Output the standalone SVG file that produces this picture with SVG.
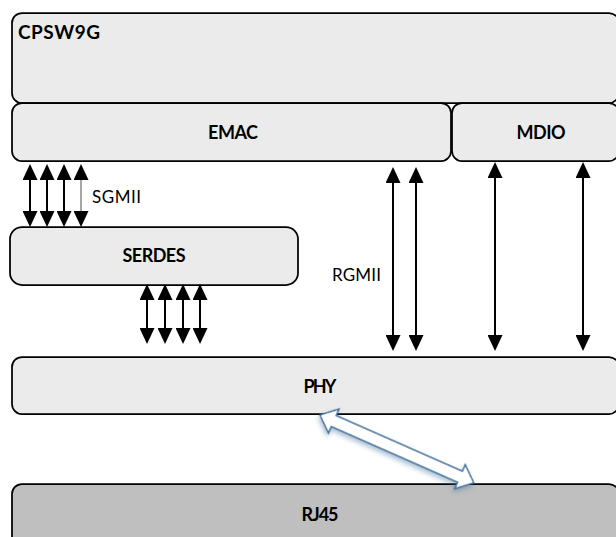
<svg xmlns="http://www.w3.org/2000/svg" width="616" height="537" viewBox="0 0 616 537">
<style>
.box{fill:#EBEBEB;stroke:#000;stroke-width:1.75}
.dark{fill:#BFBFBF}
.lbl{font-family:Lato,"Open Sans",sans-serif;font-weight:bold;font-size:18px;fill:#000;text-anchor:middle}
.sig{font-family:Lato,"Open Sans",sans-serif;font-size:17px;fill:#000}
.ar{stroke:#000;stroke-width:2;fill:none;marker-start:url(#ah);marker-end:url(#ah)}
</style>
<defs>
<marker id="ah" viewBox="0 0 16 15" refX="14" refY="7.5" markerWidth="16" markerHeight="15" markerUnits="userSpaceOnUse" orient="auto-start-reverse">
<path d="M0,0 L16,7.5 L0,15 z" fill="#000"/>
</marker>
<filter id="glow" x="-20%" y="-40%" width="140%" height="180%">
<feGaussianBlur in="SourceAlpha" stdDeviation="2.5" result="b"/>
<feOffset dx="0" dy="3" result="o"/>
<feFlood flood-color="#41719C" flood-opacity="0.45"/>
<feComposite in2="o" operator="in" result="s"/>
<feMerge><feMergeNode in="s"/><feMergeNode in="SourceGraphic"/></feMerge>
</filter>
</defs>

<g id="cpsw9g">
<rect class="box" x="12" y="13" width="607" height="90" rx="10"/>
<text x="18" y="39" font-family="Lato,'Open Sans',sans-serif" font-weight="bold" font-size="19" textLength="82" lengthAdjust="spacing">CPSW9G</text>
</g>
<g id="emac">
<rect class="box" x="12" y="103" width="439" height="58" rx="10"/>
<text class="lbl" x="233" y="139" textLength="50">EMAC</text>
</g>
<g id="mdio">
<rect class="box" x="452" y="103" width="167" height="58" rx="10"/>
<text class="lbl" x="541" y="139" textLength="49">MDIO</text>
</g>
<g id="serdes">
<rect class="box" x="10" y="227" width="288" height="58" rx="12"/>
<text class="lbl" x="154" y="262" textLength="63">SERDES</text>
</g>
<g id="phy">
<rect class="box" x="12" y="357" width="607" height="57" rx="10"/>
<text class="lbl" x="320" y="393" textLength="33">PHY</text>
</g>
<g id="rj45">
<rect class="box dark" x="12" y="484" width="607" height="70" rx="10"/>
<text class="lbl" x="320" y="521" textLength="37">RJ45</text>
</g>

<g id="connectors">
<line class="ar" x1="30" y1="166" x2="30" y2="225"/>
<line class="ar" x1="47" y1="166" x2="47" y2="225"/>
<line class="ar" x1="64" y1="166" x2="64" y2="225"/>
<line class="ar" x1="81" y1="166" x2="81" y2="225" style="stroke:#A6A6A6"/>
<line class="ar" x1="147" y1="286" x2="147" y2="342"/>
<line class="ar" x1="165" y1="286" x2="165" y2="342"/>
<line class="ar" x1="183" y1="286" x2="183" y2="342"/>
<line class="ar" x1="200" y1="286" x2="200" y2="342"/>
<line class="ar" x1="393" y1="169" x2="393" y2="349"/>
<line class="ar" x1="416" y1="169" x2="416" y2="349"/>
<line class="ar" x1="495" y1="164" x2="495" y2="349"/>
<line class="ar" x1="583" y1="164" x2="583" y2="349"/>
<polygon filter="url(#glow)" transform="translate(320,415) rotate(23.8)" points="0,0 15,-13 15,-6 153,-6 153,-13 168,0 153,13 153,6 15,6 15,13" fill="#fff" stroke="#41719C" stroke-width="1.5" stroke-linejoin="miter"/>
</g>

<text class="sig" x="92" y="203" textLength="49">SGMII</text>
<text class="sig" x="332" y="281" textLength="49">RGMII</text>
</svg>
